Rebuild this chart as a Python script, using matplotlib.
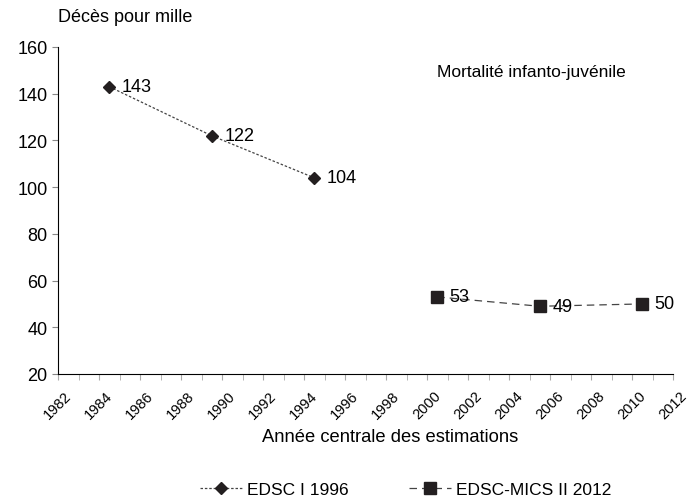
import matplotlib.pyplot as plt
import numpy as np

plt.rcParams['font.family'] = ['Liberation Sans', 'DejaVu Sans']

# Data
years_1996 = [1984.5, 1989.5, 1994.5]
values_1996 = [143, 122, 104]
years_2012 = [2000.5, 2005.5, 2010.5]
values_2012 = [53, 49, 50]
x_ticks = list(range(1982, 2013, 2))
y_ticks = [20, 40, 60, 80, 100, 120, 140, 160]

dark = '#231f20'
line_col = '#444444'

fig = plt.figure(figsize=(6.88, 5.02), dpi=100)
ax = fig.add_axes([58 / 688, 1 - 375 / 502, (673 - 58) / 688, (375 - 48) / 502])

ax.plot(years_1996, values_1996, linestyle=(0, (2, 1.5)), color=line_col, lw=0.9,
        marker='D', markersize=6, markerfacecolor=dark, markeredgecolor=dark,
        label='EDSC I 1996')
ax.plot(years_2012, values_2012, linestyle=(0, (6, 4)), color=line_col, lw=0.9,
        marker='s', markersize=8.5, markerfacecolor=dark, markeredgecolor=dark,
        label='EDSC-MICS II 2012')

for x, y in zip(years_1996 + years_2012, values_1996 + values_2012):
    ax.annotate(str(y), (x, y), xytext=(9, 0), textcoords='offset points',
                va='center', ha='left', fontsize=13, color='black')

ax.set_xlim(1982, 2012)
ax.set_ylim(20, 160)
ax.set_xticks(x_ticks)
ax.set_xticks(range(1982, 2013), minor=True)
ax.set_xticklabels([str(t) for t in x_ticks], rotation=45, ha='center',
                   fontsize=10.5)
ax.set_yticks(y_ticks)
ax.tick_params(axis='y', labelsize=13, length=4, color='#888888')
ax.tick_params(axis='x', which='both', length=4, color='#aaaaaa', pad=6)

for s in ['top', 'right']:
    ax.spines[s].set_visible(False)
ax.spines['left'].set_color('black')
ax.spines['bottom'].set_color('black')

fig.text(58 / 688, 1 - 18 / 502, 'Décès pour mille', fontsize=13, va='center', ha='left')
ax.text(0.77, 0.925, 'Mortalité infanto-juvénile', transform=ax.transAxes,
        fontsize=12.5, ha='center', va='center')
fig.text(390 / 688, 1 - 438 / 502, 'Année centrale des estimations', fontsize=13.2,
         ha='center', va='center')

fig.legend(loc='center', bbox_to_anchor=(0.59, 1 - 490 / 502), ncol=2,
           frameon=False, fontsize=12.5, handlelength=2.4, columnspacing=3.5,
           handletextpad=0.3)

fig.savefig('out.png', dpi=100)
